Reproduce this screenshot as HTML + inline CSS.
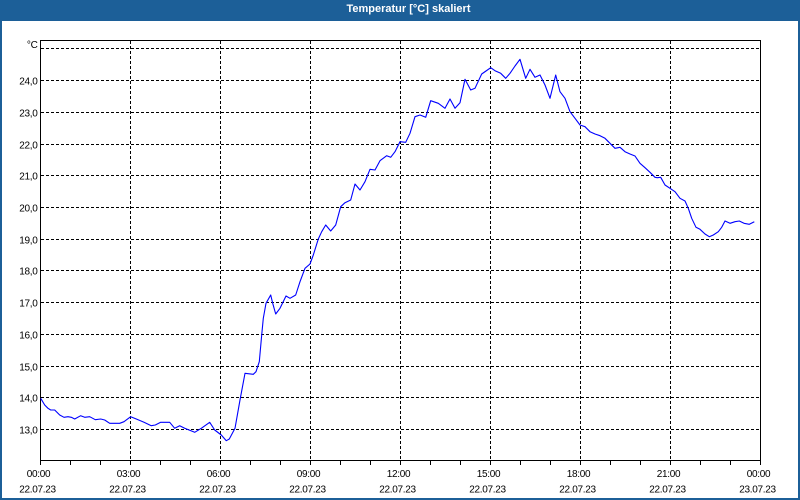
<!DOCTYPE html>
<html>
<head>
<meta charset="utf-8">
<style>
html,body{margin:0;padding:0;background:#fff;}
body{width:800px;height:500px;overflow:hidden;}
svg{display:block;}
text{font-family:"Liberation Sans","DejaVu Sans",sans-serif;}
</style>
</head>
<body>
<svg width="800" height="500" viewBox="0 0 800 500" xmlns="http://www.w3.org/2000/svg">
  <!-- window frame -->
  <rect x="0" y="0" width="800" height="500" fill="#1c5f98"/>
  <rect x="2" y="21" width="796" height="477" fill="#ffffff"/>
  <text x="408.5" y="12" fill="#ffffff" font-size="11" font-weight="bold" text-anchor="middle">Temperatur [°C] skaliert</text>

  <!-- horizontal grid -->
  <g stroke="#000" stroke-width="1" stroke-dasharray="3,2" fill="none" shape-rendering="crispEdges">
    <line x1="41" y1="48.5" x2="760" y2="48.5"/>
    <line x1="41" y1="80.5" x2="760" y2="80.5"/>
    <line x1="41" y1="112.5" x2="760" y2="112.5"/>
    <line x1="41" y1="144.5" x2="760" y2="144.5"/>
    <line x1="41" y1="175.5" x2="760" y2="175.5"/>
    <line x1="41" y1="207.5" x2="760" y2="207.5"/>
    <line x1="41" y1="239.5" x2="760" y2="239.5"/>
    <line x1="41" y1="270.5" x2="760" y2="270.5"/>
    <line x1="41" y1="302.5" x2="760" y2="302.5"/>
    <line x1="41" y1="334.5" x2="760" y2="334.5"/>
    <line x1="41" y1="366.5" x2="760" y2="366.5"/>
    <line x1="41" y1="397.5" x2="760" y2="397.5"/>
    <line x1="41" y1="429.5" x2="760" y2="429.5"/>
    <!-- vertical grid -->
    <line x1="130.5" y1="41" x2="130.5" y2="460"/>
    <line x1="220.5" y1="41" x2="220.5" y2="460"/>
    <line x1="310.5" y1="41" x2="310.5" y2="460"/>
    <line x1="400.5" y1="41" x2="400.5" y2="460"/>
    <line x1="490.5" y1="41" x2="490.5" y2="460"/>
    <line x1="580.5" y1="41" x2="580.5" y2="460"/>
    <line x1="670.5" y1="41" x2="670.5" y2="460"/>
  </g>

  <!-- frame -->
  <rect x="40.5" y="40.5" width="720" height="420" fill="none" stroke="#000" stroke-width="1" shape-rendering="crispEdges"/>

  <!-- bottom ticks -->
  <g stroke="#000" stroke-width="1" shape-rendering="crispEdges">
    <line x1="40.5" y1="460" x2="40.5" y2="465"/>
    <line x1="70.5" y1="460" x2="70.5" y2="465"/>
    <line x1="100.5" y1="460" x2="100.5" y2="465"/>
    <line x1="130.5" y1="460" x2="130.5" y2="465"/>
    <line x1="160.5" y1="460" x2="160.5" y2="465"/>
    <line x1="190.5" y1="460" x2="190.5" y2="465"/>
    <line x1="220.5" y1="460" x2="220.5" y2="465"/>
    <line x1="250.5" y1="460" x2="250.5" y2="465"/>
    <line x1="280.5" y1="460" x2="280.5" y2="465"/>
    <line x1="310.5" y1="460" x2="310.5" y2="465"/>
    <line x1="340.5" y1="460" x2="340.5" y2="465"/>
    <line x1="370.5" y1="460" x2="370.5" y2="465"/>
    <line x1="400.5" y1="460" x2="400.5" y2="465"/>
    <line x1="430.5" y1="460" x2="430.5" y2="465"/>
    <line x1="460.5" y1="460" x2="460.5" y2="465"/>
    <line x1="490.5" y1="460" x2="490.5" y2="465"/>
    <line x1="520.5" y1="460" x2="520.5" y2="465"/>
    <line x1="550.5" y1="460" x2="550.5" y2="465"/>
    <line x1="580.5" y1="460" x2="580.5" y2="465"/>
    <line x1="610.5" y1="460" x2="610.5" y2="465"/>
    <line x1="640.5" y1="460" x2="640.5" y2="465"/>
    <line x1="670.5" y1="460" x2="670.5" y2="465"/>
    <line x1="700.5" y1="460" x2="700.5" y2="465"/>
    <line x1="730.5" y1="460" x2="730.5" y2="465"/>
    <line x1="760.5" y1="460" x2="760.5" y2="465"/>
  </g>

  <!-- y labels -->
  <g font-size="10" fill="#000" text-anchor="end" letter-spacing="-0.3">
    <text x="37.5" y="48">°C</text>
    <text x="37.5" y="84.5">24,0</text>
    <text x="37.5" y="116.5">23,0</text>
    <text x="37.5" y="148.5">22,0</text>
    <text x="37.5" y="179.5">21,0</text>
    <text x="37.5" y="211.5">20,0</text>
    <text x="37.5" y="243.5">19,0</text>
    <text x="37.5" y="274.5">18,0</text>
    <text x="37.5" y="306.5">17,0</text>
    <text x="37.5" y="338.5">16,0</text>
    <text x="37.5" y="370.5">15,0</text>
    <text x="37.5" y="401.5">14,0</text>
    <text x="37.5" y="433.5">13,0</text>
  </g>

  <!-- x labels -->
  <g font-size="10" fill="#000" text-anchor="middle" letter-spacing="-0.3">
    <text x="38.5" y="477">00:00</text><text x="37.5" y="492.5">22.07.23</text>
    <text x="128.5" y="477">03:00</text><text x="127.5" y="492.5">22.07.23</text>
    <text x="218.5" y="477">06:00</text><text x="217.5" y="492.5">22.07.23</text>
    <text x="308.5" y="477">09:00</text><text x="307.5" y="492.5">22.07.23</text>
    <text x="398.5" y="477">12:00</text><text x="397.5" y="492.5">22.07.23</text>
    <text x="488.5" y="477">15:00</text><text x="487.5" y="492.5">22.07.23</text>
    <text x="578.5" y="477">18:00</text><text x="577.5" y="492.5">22.07.23</text>
    <text x="668.5" y="477">21:00</text><text x="667.5" y="492.5">22.07.23</text>
    <text x="758.5" y="477">00:00</text><text x="757.5" y="492.5">23.07.23</text>
  </g>

  <!-- data series -->
  <polyline fill="none" stroke="#0000ff" stroke-width="1.1" stroke-linejoin="round" points="
40.7,398.3 44.7,405 48,408.3 50.7,410 54.7,410 59.7,415 64,417.3 68,416.7 71.3,417.3 74.7,419
80.7,415.7 84.7,417.3 89.7,416.7 95.3,419.7 100.7,419 104.7,420 109.7,423.3 119.7,423.3 124,421.7
130.7,416.7 136.3,419 144,422.3 151.3,425.7 155.3,425 160.7,422.3 169.7,422.3 174.7,428.3 179.7,425.7
184.7,428.3 194.7,432.3 201.3,428.3 209.7,422.3 214.7,430 221.3,435 226.3,440.7 229.3,439 235,428.3
240,400 245,373.3 253.3,374.3 256,371.7 259.3,361.7 261.7,335 263.3,318.3 266,303.3 270.7,295
272.7,303.3 275.7,314 280,308.3 286,296 290,298.3 295.7,295 300,281.7 305,268.3 310,264 313.3,255
318.3,239 321.7,231.7 325.7,225 330.7,231 335.7,225 340.7,206.7 345,202.7 350.7,200 355,184 360,190
365,181.7 370,169.3 375,170 380,160.7 386.7,155.7 390.7,157.3 395,151.7 400,141.7 405.7,142.3 410,133.3
415,116.7 420,115 425.7,117.3 430.7,100.7 438.3,103.3 445,108.3 450,99 455,108.3 460,102.7 465,79.3
470.7,90 475,88.3 477.3,83.3 481.7,74 486,71 490.7,67.7 495,70.7 500.7,73.3 505.7,78.3 510,73.3
515,66 520,59.3 525.7,78.3 530,69.3 535,77.3 540,75 545,85 550,98.3 555.7,75 560,91.7 565,98.3
570,111.7 575,118.3 580,125 585,126.7 590,131.7 595,134 600,135.7 605,138.3 610,143.3 615,148.3
620,147.3 625,151.7 630,154 635,156 640,163.3 645,167.7 650,172.3 655,177.3 657.3,177.7 660.7,177.3
665,185 670,188.3 675,191.7 680,198.3 685,201 688.3,208.3 691.7,218.3 696,227.3 700,229.3 705,234
709.3,236.7 713.3,235 718.3,231.7 721.7,227.3 725,221 730,223.3 735,221.7 739.3,221 744,223.3
749.3,224.3 754.3,221.7"/>
</svg>
</body>
</html>
